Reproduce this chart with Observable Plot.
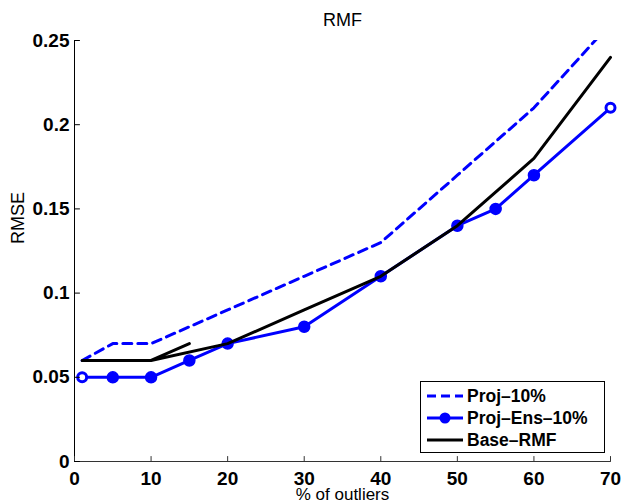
<!DOCTYPE html>
<html><head><meta charset="utf-8">
<script src="https://cdn.jsdelivr.net/npm/d3@7"></script>
<script src="https://cdn.jsdelivr.net/npm/@observablehq/plot@0.6"></script>
<style>
body{margin:0;background:#fff;}
#wrap{position:relative;width:621px;height:503px;}
</style></head><body><div id="wrap"></div>
<script>
const titleText = "RMF";
const xLabel = "% of outliers";
const yLabel = "RMSE";
const xTicks = [0, 10, 20, 30, 40, 50, 60, 70];
const yTicks = [0, 0.05, 0.1, 0.15, 0.2, 0.25];
const seriesNames = ["Proj–10%", "Proj–Ens–10%", "Base–RMF"];
const projX = [1, 5, 10, 15, 20, 30, 40, 50, 60, 70];
const projY = [0.06, 0.07, 0.07, 0.08, 0.09, 0.11, 0.13, 0.17, 0.21, 0.26];
const ensX = [1, 5, 10, 15, 20, 30, 40, 50, 55, 60, 70];
const ensY = [0.05, 0.05, 0.05, 0.06, 0.07, 0.08, 0.11, 0.14, 0.15, 0.17, 0.21];
const baseX = [1, 5, 10, 15, 10, 20, 30, 40, 50, 60, 70];
const baseY = [0.06, 0.06, 0.06, 0.07, 0.06, 0.07, 0.09, 0.11, 0.14, 0.18, 0.24];

const proj = projX.map((x, i) => ({x, y: projY[i]}));
const ens = ensX.map((x, i) => ({x, y: ensY[i], end: i === 0 || i === ensX.length - 1}));
const base = baseX.map((x, i) => ({x, y: baseY[i]}));

const BLUE = "#0000ff";
const font = "'Liberation Sans', Arial, Helvetica, sans-serif";
const tickShape = {draw(context, l) { context.moveTo(0, 0); context.lineTo(0, -l); }};

const chart = Plot.plot({
  width: 621, height: 503,
  marginLeft: 74, marginRight: 11, marginTop: 40, marginBottom: 42,
  x: {domain: [0, 70]},
  y: {domain: [0, 0.25]},
  style: {fontFamily: font, background: "white", color: "black"},
  marks: [
    Plot.line(proj, {x: "x", y: "y", stroke: BLUE, strokeWidth: 3, strokeDasharray: "9,6", clip: true}),
    Plot.line(ens, {x: "x", y: "y", stroke: BLUE, strokeWidth: 3}),
    Plot.dot(ens.filter(d => !d.end), {x: "x", y: "y", r: 5.5, fill: BLUE, stroke: BLUE}),
    Plot.dot(ens.filter(d => d.end), {x: "x", y: "y", r: 4.5, fill: "white", stroke: BLUE, strokeWidth: 3}),
    Plot.line(base, {x: "x", y: "y", stroke: "black", strokeWidth: 3}),
    Plot.ruleY([0], {stroke: "#333", strokeWidth: 1}),
    Plot.ruleX([0], {stroke: "#000", strokeWidth: 1}),
    Plot.vector(xTicks, {x: d => d, frameAnchor: "bottom", length: 5, rotate: 0, anchor: "start", shape: tickShape, stroke: "#333", strokeWidth: 1}),
    Plot.vector(yTicks, {y: d => d, frameAnchor: "left", length: 5, rotate: 90, anchor: "start", shape: tickShape, stroke: "#000", strokeWidth: 1}),
    Plot.axisX({ticks: xTicks, tickSize: 0, tickPadding: 10, label: null, fontSize: 19, fontWeight: "bold", tickFormat: d => String(d)}),
    Plot.axisY({ticks: yTicks, tickSize: 0, tickPadding: 5, label: null, fontSize: 19, fontWeight: "bold", tickFormat: d => String(d)}),
    Plot.text([titleText], {text: d => d, frameAnchor: "top", lineAnchor: "middle", dy: -20, fontSize: 18}),
    Plot.text([xLabel], {text: d => d, frameAnchor: "bottom", lineAnchor: "middle", dy: 33, fontSize: 17}),
    Plot.text([yLabel], {text: d => d, frameAnchor: "left", lineAnchor: "middle", dx: -56, dy: -7, rotate: -90, fontSize: 18})
  ]
});
document.getElementById("wrap").appendChild(chart);

// Legend box (lower right), drawn into the same SVG
const svg = d3.select(chart);
const lg = svg.append("g").attr("font-family", font).attr("text-anchor", "start");
lg.append("rect").attr("x", 420.5).attr("y", 381.5).attr("width", 184).attr("height", 71)
  .attr("fill", "white").attr("stroke", "black").attr("stroke-width", 1);
const rowsY = [396, 418, 440];
seriesNames.forEach((name, i) => {
  const y = rowsY[i];
  const ln = lg.append("line").attr("x1", 427).attr("x2", 463).attr("y1", y).attr("y2", y)
    .attr("stroke-width", 3).attr("stroke", i === 2 ? "black" : BLUE);
  if (i === 0) ln.attr("stroke-dasharray", "9,5");
  if (i === 1) lg.append("circle").attr("cx", 445).attr("cy", y).attr("r", 5.5).attr("fill", BLUE);
  lg.append("text").attr("x", 467).attr("y", y).attr("dy", "0.36em").attr("text-anchor", "start")
    .attr("font-size", 17.5).attr("font-weight", "bold").attr("fill", "black").text(name);
});
</script>
</body></html>
